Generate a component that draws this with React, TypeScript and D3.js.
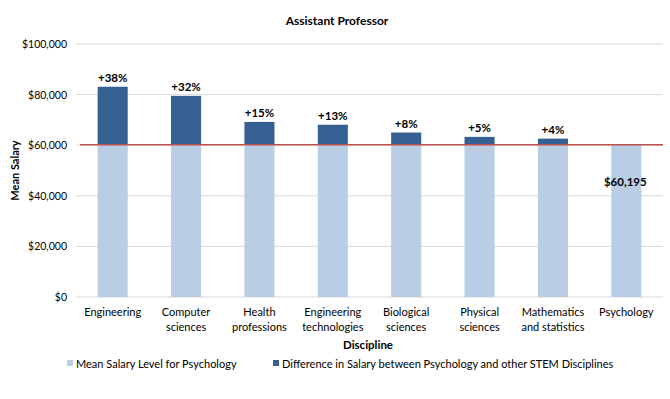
import React from "react";
import * as d3 from "d3";

const categories = [
  ["Engineering"],
  ["Computer", "sciences"],
  ["Health", "professions"],
  ["Engineering", "technologies"],
  ["Biological", "sciences"],
  ["Physical", "sciences"],
  ["Mathematics", "and statistics"],
  ["Psychology"],
];
const psychBase = 60195;
const totals = [83100, 79500, 69200, 68100, 65000, 63300, 62600, 60195];
const pctLabels = ["+38%", "+32%", "+15%", "+13%", "+8%", "+5%", "+4%", ""];
const yTicks = [0, 20000, 40000, 60000, 80000, 100000];

const W = 670;
const H = 399;
const margin = { left: 76, right: 7, top: 44, bottom: 102 };
const font = "Lato, 'Open Sans', sans-serif";
const light = "#b9cde5";
const dark = "#376092";

export default function App() {
  const x = d3
    .scaleBand()
    .domain(categories.map((_, i) => String(i)))
    .range([margin.left, W - margin.right])
    .paddingInner(0.59)
    .paddingOuter(0.295);
  const y = d3
    .scaleLinear()
    .domain([0, 100000])
    .range([H - margin.bottom, margin.top]);
  const fmt = (v: number) => "$" + d3.format(",")(v);
  const bw = x.bandwidth();

  return (
    <svg
      width={W}
      height={H}
      style={{ position: "absolute", left: 0, top: 0, background: "#fff" }}
      fontFamily={font}
    >
      <text x={337} y={25} textAnchor="middle" fontSize={12} fontWeight="bold" fill="#000">
        Assistant Professor
      </text>
      {yTicks.map((t) => (
        <g key={t}>
          <line
            x1={margin.left}
            x2={W - margin.right}
            y1={y(t)}
            y2={y(t)}
            stroke="#d9d9d9"
            strokeWidth={1}
          />
          <text x={67} y={y(t) + 4} textAnchor="end" fontSize={10.5} fill="#000">
            {fmt(t)}
          </text>
        </g>
      ))}
      <text
        transform={`translate(19,${(y(0) + y(100000)) / 2}) rotate(-90)`}
        textAnchor="middle"
        fontSize={11}
        fontWeight="bold"
      >
        Mean Salary
      </text>
      {totals.map((v, i) => {
        const bx = x(String(i))!;
        return (
          <g key={i}>
            <rect x={bx} width={bw} y={y(psychBase)} height={y(0) - y(psychBase)} fill={light} />
            {v > psychBase && (
              <rect x={bx} width={bw} y={y(v)} height={y(psychBase) - y(v)} fill={dark} />
            )}
            {pctLabels[i] && (
              <text x={bx + bw / 2} y={y(v) - 5} textAnchor="middle" fontSize={11.5} fontWeight="bold">
                {pctLabels[i]}
              </text>
            )}
            {categories[i].map((line, j) => (
              <text
                key={j}
                x={bx + bw / 2}
                y={316 + j * 15}
                textAnchor="middle"
                fontSize={11}
              >
                {line}
              </text>
            ))}
          </g>
        );
      })}
      <line
        x1={80}
        x2={W - margin.right}
        y1={y(psychBase)}
        y2={y(psychBase)}
        stroke="#c0504d"
        strokeWidth={1.5}
      />
      <text
        x={x("7")! + bw / 2 - 1}
        y={186}
        textAnchor="middle"
        fontSize={11.5}
        fontWeight="bold"
      >
        {fmt(psychBase)}
      </text>
      <text x={368} y={349} textAnchor="middle" fontSize={11.5} fontWeight="bold">
        Discipline
      </text>
      <rect x={67} y={360} width={6} height={6} fill={light} />
      <text x={76} y={368} fontSize={11}>
        Mean Salary Level for Psychology
      </text>
      <rect x={273} y={360} width={6} height={6} fill={dark} />
      <text x={282} y={368} fontSize={11}>
        Difference in Salary between Psychology and other STEM Disciplines
      </text>
    </svg>
  );
}
